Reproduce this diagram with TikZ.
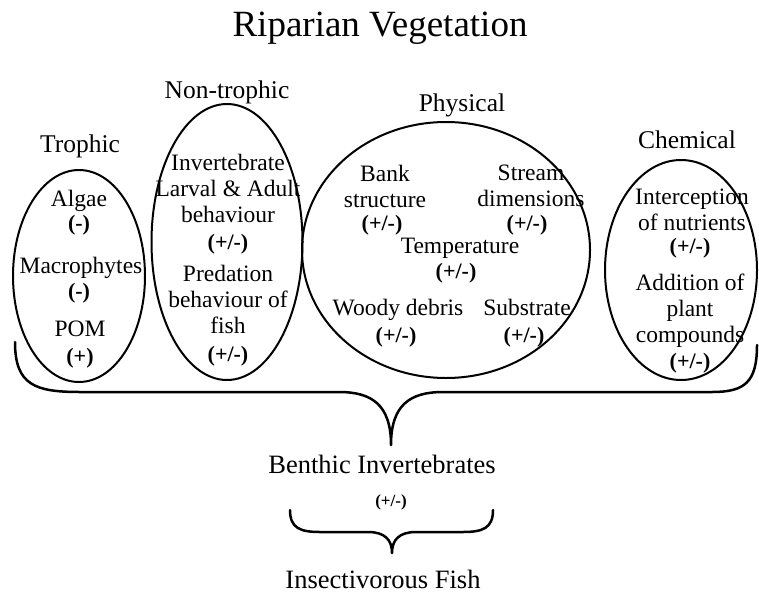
\documentclass[tikz,border=0pt]{standalone}
\usepackage{fontspec}
\setmainfont{Liberation Serif}
\usetikzlibrary{shapes.geometric}

\tikzset{
  grp/.style={draw, ellipse, line width=2pt, inner sep=0pt},
  lbl/.style={font=\fontsize{23.5}{26}\selectfont, align=center, inner sep=0pt},
  sgn/.style={font=\fontsize{22}{26}\selectfont\bfseries, inner sep=0pt},
  head/.style={font=\fontsize{25.5}{28}\selectfont, inner sep=0pt, anchor=base},
  big/.style={font=\fontsize{26.5}{30}\selectfont, inner sep=0pt, anchor=base},
  brace/.style={line width=2.5pt, line join=round, line cap=round}
}

\begin{document}
\begin{tikzpicture}[x=1pt, y=-1pt]
        \useasboundingbox (0,0) rectangle (759,594);

        % Title
        \node[font=\fontsize{37}{40}\selectfont, inner sep=0pt, anchor=base] (title) at (380,37) {Riparian Vegetation};

        % Trophic
        \node[head] (trophic) at (80,152) {Trophic};
        \node[grp, minimum width=132pt, minimum height=212pt] (trophicgrp) at (79,276) {};
        \node[lbl, anchor=base] (algae) at (79,206) {Algae};
        \node[sgn] (algaes) at (79,225) {(-)};
        \node[lbl, anchor=base] (macro) at (81,273) {Macrophytes};
        \node[sgn] (macros) at (79,293) {(-)};
        \node[lbl, anchor=base] (pom) at (80,336) {POM};
        \node[sgn] (poms) at (80,358) {(+)};

        % Non-trophic
        \node[head] (nontroph) at (227,98) {Non-trophic};
        \node[grp, minimum width=151pt, minimum height=276pt] (nontrophgrp) at (227,242) {};
        \node[lbl] (invert) at (228,188) {Invertebrate\\Larval \& Adult\\behaviour};
        \node[sgn] (inverts) at (228,244) {(+/-)};
        \node[lbl] (pred) at (228,299) {Predation\\behaviour of\\fish};
        \node[sgn] (preds) at (228,356) {(+/-)};

        % Physical
        \node[head] (phys) at (462,111) {Physical};
        \node[grp, minimum width=288pt, minimum height=256pt] (physgrp) at (446,250) {};
        \node[lbl] (bank) at (385,186) {Bank\\structure};
        \node[lbl] (stream) at (531,186) {Stream\\dimensions};
        \node[lbl, anchor=base] (temp) at (460,253) {Temperature};
        \node[lbl, anchor=base] (woody) at (398,315) {Woody debris};
        \node[lbl, anchor=base] (substr) at (527,315) {Substrate};
        \foreach \nm/\x/\y in {banks/382/225, streams/527/225, temps/456/273, woodys/396/337, substrs/524/337}
        {
            \node[sgn] (\nm) at (\x,\y) {(+/-)};
        }

        % Chemical
        \node[head] (chem) at (687,148) {Chemical};
        \node[grp, minimum width=152pt, minimum height=220pt] (chemgrp) at (681,270) {};
        \node[lbl] (intercept) at (692,210) {Interception\\of nutrients};
        \node[sgn] (intercepts) at (690,248) {(+/-)};
        \node[lbl] (addition) at (690,311) {Addition of\\plant\\compounds};
        \node[sgn] (additions) at (690,363) {(+/-)};

        % Big brace
        \coordinate (bl) at (15,342);
        \coordinate (br) at (757,345);
        \coordinate (btip) at (391,445);
        \draw[brace] (bl) .. controls (15,385) and (35,392) .. (80,392) -- (339,392)
            .. controls (372,392) and (391,405) .. (btip)
            .. controls (391,405) and (410,392) .. (443,392) -- (712,392)
            .. controls (745,392) and (757,382) .. (br);

        % Benthic Invertebrates
        \node[big] (benthic) at (382,473) {Benthic Invertebrates};
        \node[font=\fontsize{17}{20}\selectfont\bfseries, inner sep=0pt] (bensgn) at (391,502) {(+/-)};

        % Small brace
        \coordinate (sl) at (290,510);
        \coordinate (sr) at (493,510);
        \coordinate (stip) at (392,553);
        \draw[brace] (sl) .. controls (290,528) and (300,532) .. (320,532) -- (368,532)
            .. controls (385,532) and (392,540) .. (stip)
            .. controls (392,540) and (399,532) .. (416,532) -- (463,532)
            .. controls (483,532) and (493,528) .. (sr);

        % Fish
        \node[big] (fish) at (383,588) {Insectivorous Fish};

    \end{tikzpicture}
\end{document}
